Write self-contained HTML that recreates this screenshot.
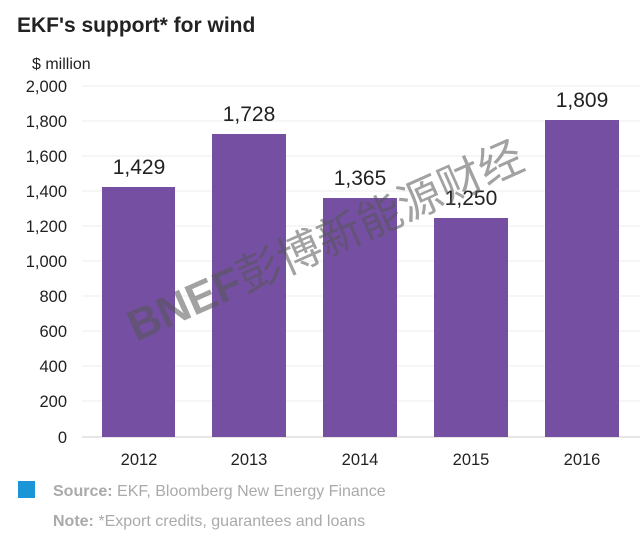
<!DOCTYPE html>
<html><head><meta charset="utf-8"><style>
html,body{margin:0;padding:0;background:#fff;}
svg{display:block;}
</style></head><body>
<svg width="640" height="544" xmlns="http://www.w3.org/2000/svg" font-family="Liberation Sans, sans-serif">
<rect width="640" height="544" fill="#fff"/>
<text x="17" y="32" font-size="21" font-weight="bold" fill="#222">EKF's support* for wind</text>
<text x="32" y="69" font-size="16" fill="#222">$ million</text>
<g stroke="#ececec" stroke-width="1">
<line x1="82" x2="640" y1="86" y2="86"/><line x1="82" x2="640" y1="121" y2="121"/>
<line x1="82" x2="640" y1="156" y2="156"/><line x1="82" x2="640" y1="191" y2="191"/>
<line x1="82" x2="640" y1="226" y2="226"/><line x1="82" x2="640" y1="261" y2="261"/>
<line x1="82" x2="640" y1="296" y2="296"/><line x1="82" x2="640" y1="331" y2="331"/>
<line x1="82" x2="640" y1="366" y2="366"/><line x1="82" x2="640" y1="401" y2="401"/>
</g>
<line x1="82" x2="640" y1="437" y2="437" stroke="#ddd" stroke-width="1.5"/>
<g font-size="16.5" fill="#222" text-anchor="end">
<text x="67" y="92">2,000</text><text x="67" y="127">1,800</text><text x="67" y="162">1,600</text>
<text x="67" y="197">1,400</text><text x="67" y="232">1,200</text><text x="67" y="267">1,000</text>
<text x="67" y="302">800</text><text x="67" y="337">600</text><text x="67" y="372">400</text>
<text x="67" y="407">200</text><text x="67" y="443">0</text>
</g>
<g fill="#7550a2">
<rect x="102" y="187" width="73" height="250"/>
<rect x="212" y="134" width="74" height="303"/>
<rect x="323" y="198" width="74" height="239"/>
<rect x="434" y="218" width="74" height="219"/>
<rect x="545" y="120" width="74" height="317"/>
</g>
<g font-size="21" fill="#222" text-anchor="middle">
<text x="139" y="174">1,429</text><text x="249" y="121">1,728</text>
<text x="360" y="185">1,365</text><text x="471" y="205">1,250</text>
<text x="582" y="107">1,809</text>
</g>
<g font-size="16.5" fill="#222" text-anchor="middle">
<text x="139" y="465">2012</text><text x="249" y="465">2013</text><text x="360" y="465">2014</text>
<text x="471" y="465">2015</text><text x="582" y="465">2016</text>
</g>
<text x="0" y="0" font-size="44" font-weight="bold" fill="#555" fill-opacity="0.55" transform="translate(136,342) rotate(-24)" font-family="Liberation Sans, Noto Sans CJK SC, sans-serif">BNEF<tspan font-weight="normal">彭博新能源财经</tspan></text>
<rect x="18" y="481" width="17" height="17" fill="#1a95d8"/>
<text x="53" y="496" font-size="16" fill="#aaa"><tspan font-weight="bold">Source:</tspan> EKF, Bloomberg New Energy Finance</text>
<text x="53" y="526" font-size="16" fill="#aaa"><tspan font-weight="bold">Note:</tspan> *Export credits, guarantees and loans</text>
</svg>
</body></html>
